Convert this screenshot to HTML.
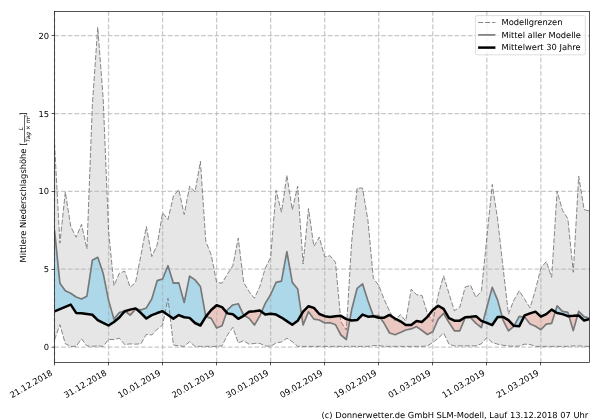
<!DOCTYPE html>
<html lang="de"><head><meta charset="utf-8"><title>Mittlere Niederschlagshöhe</title>
<style>html,body{margin:0;padding:0;background:#fff;overflow:hidden}svg{display:block;will-change:transform}text{font-family:'DejaVu Sans','Liberation Sans',sans-serif;font-size:8.33px;fill:#000;text-rendering:geometricPrecision}</style></head><body>
<svg width="600" height="420" viewBox="0 0 600 420">
<rect x="0" y="0" width="600" height="420" fill="#fff"/>
<defs>
<clipPath id="ax"><rect x="54.50" y="11.50" width="535.00" height="351.00"/></clipPath>
<clipPath id="above"><polygon points="54.50,11.50 54.50,311.34 59.90,309.16 65.31,306.82 70.71,304.64 76.12,312.89 81.52,313.21 86.92,313.98 92.33,314.76 97.73,320.05 103.14,322.86 108.54,325.50 113.94,321.92 119.35,317.56 124.75,311.18 130.16,309.62 135.56,308.38 140.96,313.05 146.37,318.50 151.77,315.07 157.18,313.05 162.58,311.18 167.98,315.07 173.39,318.65 178.79,315.07 184.20,317.25 189.60,317.88 195.01,323.01 200.41,325.50 205.81,316.63 211.22,309.94 216.62,305.27 222.03,307.13 227.43,313.36 232.83,314.29 238.24,318.81 243.64,315.85 249.05,311.65 254.45,311.18 259.85,310.56 265.26,314.61 270.66,313.83 276.07,314.61 281.47,317.56 286.87,321.14 292.28,324.72 297.68,320.83 303.09,311.65 308.49,306.20 313.89,307.91 319.30,313.98 324.70,316.16 330.11,316.94 335.51,316.32 340.91,315.85 346.32,319.12 351.72,320.52 357.13,320.05 362.53,314.61 367.93,316.63 373.34,316.32 378.74,317.72 384.15,317.72 389.55,314.92 394.95,318.50 400.36,321.30 405.76,325.04 411.17,325.04 416.57,320.99 421.97,321.92 427.38,316.79 432.78,309.94 438.19,305.73 443.59,308.85 448.99,318.03 454.40,320.68 459.80,320.68 465.21,317.25 470.61,316.79 476.02,316.16 481.42,320.83 486.82,322.86 492.23,325.04 497.63,316.94 503.04,316.94 508.44,320.05 513.84,325.81 519.25,326.28 524.65,315.38 530.06,313.36 535.46,311.65 540.86,316.63 546.27,314.14 551.67,309.62 557.08,313.05 562.48,314.14 567.88,316.16 573.29,315.85 578.69,315.38 584.10,320.52 589.50,319.12 589.50,11.50"/></clipPath>
<clipPath id="below"><polygon points="54.50,362.50 54.50,311.34 59.90,309.16 65.31,306.82 70.71,304.64 76.12,312.89 81.52,313.21 86.92,313.98 92.33,314.76 97.73,320.05 103.14,322.86 108.54,325.50 113.94,321.92 119.35,317.56 124.75,311.18 130.16,309.62 135.56,308.38 140.96,313.05 146.37,318.50 151.77,315.07 157.18,313.05 162.58,311.18 167.98,315.07 173.39,318.65 178.79,315.07 184.20,317.25 189.60,317.88 195.01,323.01 200.41,325.50 205.81,316.63 211.22,309.94 216.62,305.27 222.03,307.13 227.43,313.36 232.83,314.29 238.24,318.81 243.64,315.85 249.05,311.65 254.45,311.18 259.85,310.56 265.26,314.61 270.66,313.83 276.07,314.61 281.47,317.56 286.87,321.14 292.28,324.72 297.68,320.83 303.09,311.65 308.49,306.20 313.89,307.91 319.30,313.98 324.70,316.16 330.11,316.94 335.51,316.32 340.91,315.85 346.32,319.12 351.72,320.52 357.13,320.05 362.53,314.61 367.93,316.63 373.34,316.32 378.74,317.72 384.15,317.72 389.55,314.92 394.95,318.50 400.36,321.30 405.76,325.04 411.17,325.04 416.57,320.99 421.97,321.92 427.38,316.79 432.78,309.94 438.19,305.73 443.59,308.85 448.99,318.03 454.40,320.68 459.80,320.68 465.21,317.25 470.61,316.79 476.02,316.16 481.42,320.83 486.82,322.86 492.23,325.04 497.63,316.94 503.04,316.94 508.44,320.05 513.84,325.81 519.25,326.28 524.65,315.38 530.06,313.36 535.46,311.65 540.86,316.63 546.27,314.14 551.67,309.62 557.08,313.05 562.48,314.14 567.88,316.16 573.29,315.85 578.69,315.38 584.10,320.52 589.50,319.12 589.50,362.50"/></clipPath>
</defs>
<g clip-path="url(#ax)">
<polygon points="54.50,142.90 59.90,243.15 65.31,191.94 70.71,226.34 76.12,237.24 81.52,224.32 86.92,248.91 92.33,105.54 97.73,27.24 103.14,97.76 108.54,230.08 113.94,285.65 119.35,273.20 124.75,271.17 130.16,287.36 135.56,282.38 140.96,254.98 146.37,226.50 151.77,256.54 157.18,244.87 162.58,212.80 167.98,219.49 173.39,196.14 178.79,189.60 184.20,214.51 189.60,186.18 195.01,191.94 200.41,161.27 205.81,241.44 211.22,254.83 216.62,282.38 222.03,283.16 227.43,273.98 232.83,265.73 238.24,238.17 243.64,282.38 249.05,291.57 254.45,298.26 259.85,286.43 265.26,268.22 270.66,257.32 276.07,190.38 281.47,212.18 286.87,175.28 292.28,209.84 297.68,186.18 303.09,264.01 308.49,208.60 313.89,246.42 319.30,237.08 324.70,256.85 330.11,255.76 335.51,262.30 340.91,321.92 346.32,330.02 351.72,240.97 357.13,188.05 362.53,188.05 367.93,220.27 373.34,278.34 378.74,285.34 384.15,299.35 389.55,311.03 394.95,320.83 400.36,314.45 405.76,320.99 411.17,289.23 416.57,294.68 421.97,295.46 427.38,313.36 432.78,321.61 438.19,294.99 443.59,275.84 448.99,293.44 454.40,310.71 459.80,307.13 465.21,287.05 470.61,285.34 476.02,297.48 481.42,290.79 486.82,237.86 492.23,184.47 497.63,219.18 503.04,267.44 508.44,314.14 513.84,300.13 519.25,290.79 524.65,299.19 530.06,307.91 535.46,289.85 540.86,268.22 546.27,261.52 551.67,277.40 557.08,191.16 562.48,210.31 567.88,218.71 573.29,272.26 578.69,176.22 584.10,209.53 589.50,211.09 589.50,346.36 584.10,346.36 578.69,345.90 573.29,345.90 567.88,346.36 562.48,346.36 557.08,346.36 551.67,346.36 546.27,346.36 540.86,346.36 535.46,346.36 530.06,344.49 524.65,344.18 519.25,346.05 513.84,346.36 508.44,345.90 503.04,345.27 497.63,344.18 492.23,342.47 486.82,337.49 481.42,343.72 476.02,345.90 470.61,345.90 465.21,345.90 459.80,345.90 454.40,345.90 448.99,344.18 443.59,332.98 438.19,338.27 432.78,342.47 427.38,345.90 421.97,346.36 416.57,346.36 411.17,346.36 405.76,346.36 400.36,346.36 394.95,346.36 389.55,346.36 384.15,346.36 378.74,345.58 373.34,345.58 367.93,346.36 362.53,346.36 357.13,346.36 351.72,346.36 346.32,346.36 340.91,346.36 335.51,346.36 330.11,346.36 324.70,346.36 319.30,346.36 313.89,346.36 308.49,346.36 303.09,346.36 297.68,346.36 292.28,341.69 286.87,338.27 281.47,342.00 276.07,342.94 270.66,346.36 265.26,345.90 259.85,343.41 254.45,343.41 249.05,344.18 243.64,340.76 238.24,342.94 232.83,327.37 227.43,335.00 222.03,345.90 216.62,346.36 211.22,346.36 205.81,346.36 200.41,346.36 195.01,346.36 189.60,341.69 184.20,346.36 178.79,345.90 173.39,344.96 167.98,298.26 162.58,325.04 157.18,329.24 151.77,335.00 146.37,334.38 140.96,343.72 135.56,344.18 130.16,343.87 124.75,344.65 119.35,338.27 113.94,339.51 108.54,339.51 103.14,346.36 97.73,345.90 92.33,346.36 86.92,345.90 81.52,338.89 76.12,346.36 70.71,346.36 65.31,343.72 59.90,324.72 54.50,339.82" fill="#808080" fill-opacity="0.2"/>
<polygon clip-path="url(#above)" points="54.50,230.08 59.90,283.16 65.31,290.79 70.71,293.28 76.12,297.02 81.52,299.04 86.92,296.24 92.33,260.28 97.73,257.32 103.14,273.20 108.54,300.13 113.94,319.12 119.35,312.58 124.75,311.03 130.16,315.07 135.56,309.16 140.96,309.94 146.37,307.91 151.77,299.04 157.18,280.67 162.58,278.96 167.98,265.73 173.39,283.16 178.79,282.85 184.20,302.46 189.60,276.16 195.01,279.89 200.41,286.59 205.81,316.63 211.22,318.34 216.62,327.99 222.03,325.81 227.43,309.94 232.83,304.95 238.24,303.71 243.64,315.07 249.05,318.34 254.45,325.04 259.85,315.85 265.26,303.40 270.66,294.52 276.07,282.38 281.47,281.14 286.87,251.56 292.28,282.38 297.68,288.92 303.09,325.04 308.49,311.65 313.89,319.12 319.30,320.05 324.70,323.01 330.11,322.70 335.51,324.72 340.91,335.00 346.32,339.51 351.72,309.47 357.13,288.30 362.53,283.78 367.93,300.75 373.34,315.85 378.74,315.70 384.15,323.32 389.55,332.98 394.95,334.69 400.36,332.51 405.76,330.02 411.17,328.93 416.57,326.59 421.97,330.48 427.38,334.53 432.78,331.73 438.19,319.12 443.59,313.36 448.99,322.55 454.40,330.80 459.80,330.80 465.21,317.56 470.61,317.56 476.02,323.32 481.42,327.53 486.82,307.45 492.23,287.36 497.63,300.13 503.04,320.05 508.44,330.80 513.84,326.28 519.25,316.32 524.65,317.10 530.06,324.10 535.46,326.28 540.86,329.71 546.27,324.10 551.67,323.32 557.08,305.89 562.48,311.34 567.88,312.43 573.29,330.64 578.69,311.34 584.10,316.63 589.50,318.34 589.50,319.12 584.10,320.52 578.69,315.38 573.29,315.85 567.88,316.16 562.48,314.14 557.08,313.05 551.67,309.62 546.27,314.14 540.86,316.63 535.46,311.65 530.06,313.36 524.65,315.38 519.25,326.28 513.84,325.81 508.44,320.05 503.04,316.94 497.63,316.94 492.23,325.04 486.82,322.86 481.42,320.83 476.02,316.16 470.61,316.79 465.21,317.25 459.80,320.68 454.40,320.68 448.99,318.03 443.59,308.85 438.19,305.73 432.78,309.94 427.38,316.79 421.97,321.92 416.57,320.99 411.17,325.04 405.76,325.04 400.36,321.30 394.95,318.50 389.55,314.92 384.15,317.72 378.74,317.72 373.34,316.32 367.93,316.63 362.53,314.61 357.13,320.05 351.72,320.52 346.32,319.12 340.91,315.85 335.51,316.32 330.11,316.94 324.70,316.16 319.30,313.98 313.89,307.91 308.49,306.20 303.09,311.65 297.68,320.83 292.28,324.72 286.87,321.14 281.47,317.56 276.07,314.61 270.66,313.83 265.26,314.61 259.85,310.56 254.45,311.18 249.05,311.65 243.64,315.85 238.24,318.81 232.83,314.29 227.43,313.36 222.03,307.13 216.62,305.27 211.22,309.94 205.81,316.63 200.41,325.50 195.01,323.01 189.60,317.88 184.20,317.25 178.79,315.07 173.39,318.65 167.98,315.07 162.58,311.18 157.18,313.05 151.77,315.07 146.37,318.50 140.96,313.05 135.56,308.38 130.16,309.62 124.75,311.18 119.35,317.56 113.94,321.92 108.54,325.50 103.14,322.86 97.73,320.05 92.33,314.76 86.92,313.98 81.52,313.21 76.12,312.89 70.71,304.64 65.31,306.82 59.90,309.16 54.50,311.34" fill="#87ceeb" fill-opacity="0.62" fill-rule="evenodd"/>
<polygon clip-path="url(#below)" points="54.50,230.08 59.90,283.16 65.31,290.79 70.71,293.28 76.12,297.02 81.52,299.04 86.92,296.24 92.33,260.28 97.73,257.32 103.14,273.20 108.54,300.13 113.94,319.12 119.35,312.58 124.75,311.03 130.16,315.07 135.56,309.16 140.96,309.94 146.37,307.91 151.77,299.04 157.18,280.67 162.58,278.96 167.98,265.73 173.39,283.16 178.79,282.85 184.20,302.46 189.60,276.16 195.01,279.89 200.41,286.59 205.81,316.63 211.22,318.34 216.62,327.99 222.03,325.81 227.43,309.94 232.83,304.95 238.24,303.71 243.64,315.07 249.05,318.34 254.45,325.04 259.85,315.85 265.26,303.40 270.66,294.52 276.07,282.38 281.47,281.14 286.87,251.56 292.28,282.38 297.68,288.92 303.09,325.04 308.49,311.65 313.89,319.12 319.30,320.05 324.70,323.01 330.11,322.70 335.51,324.72 340.91,335.00 346.32,339.51 351.72,309.47 357.13,288.30 362.53,283.78 367.93,300.75 373.34,315.85 378.74,315.70 384.15,323.32 389.55,332.98 394.95,334.69 400.36,332.51 405.76,330.02 411.17,328.93 416.57,326.59 421.97,330.48 427.38,334.53 432.78,331.73 438.19,319.12 443.59,313.36 448.99,322.55 454.40,330.80 459.80,330.80 465.21,317.56 470.61,317.56 476.02,323.32 481.42,327.53 486.82,307.45 492.23,287.36 497.63,300.13 503.04,320.05 508.44,330.80 513.84,326.28 519.25,316.32 524.65,317.10 530.06,324.10 535.46,326.28 540.86,329.71 546.27,324.10 551.67,323.32 557.08,305.89 562.48,311.34 567.88,312.43 573.29,330.64 578.69,311.34 584.10,316.63 589.50,318.34 589.50,319.12 584.10,320.52 578.69,315.38 573.29,315.85 567.88,316.16 562.48,314.14 557.08,313.05 551.67,309.62 546.27,314.14 540.86,316.63 535.46,311.65 530.06,313.36 524.65,315.38 519.25,326.28 513.84,325.81 508.44,320.05 503.04,316.94 497.63,316.94 492.23,325.04 486.82,322.86 481.42,320.83 476.02,316.16 470.61,316.79 465.21,317.25 459.80,320.68 454.40,320.68 448.99,318.03 443.59,308.85 438.19,305.73 432.78,309.94 427.38,316.79 421.97,321.92 416.57,320.99 411.17,325.04 405.76,325.04 400.36,321.30 394.95,318.50 389.55,314.92 384.15,317.72 378.74,317.72 373.34,316.32 367.93,316.63 362.53,314.61 357.13,320.05 351.72,320.52 346.32,319.12 340.91,315.85 335.51,316.32 330.11,316.94 324.70,316.16 319.30,313.98 313.89,307.91 308.49,306.20 303.09,311.65 297.68,320.83 292.28,324.72 286.87,321.14 281.47,317.56 276.07,314.61 270.66,313.83 265.26,314.61 259.85,310.56 254.45,311.18 249.05,311.65 243.64,315.85 238.24,318.81 232.83,314.29 227.43,313.36 222.03,307.13 216.62,305.27 211.22,309.94 205.81,316.63 200.41,325.50 195.01,323.01 189.60,317.88 184.20,317.25 178.79,315.07 173.39,318.65 167.98,315.07 162.58,311.18 157.18,313.05 151.77,315.07 146.37,318.50 140.96,313.05 135.56,308.38 130.16,309.62 124.75,311.18 119.35,317.56 113.94,321.92 108.54,325.50 103.14,322.86 97.73,320.05 92.33,314.76 86.92,313.98 81.52,313.21 76.12,312.89 70.71,304.64 65.31,306.82 59.90,309.16 54.50,311.34" fill="#fa8072" fill-opacity="0.3" fill-rule="evenodd"/>
</g>
<g stroke="#b0b0b0" stroke-width="1.25" stroke-dasharray="4.65 2.017" fill="none" stroke-opacity="0.7"><line x1="54.50" y1="362.50" x2="54.50" y2="11.50"/><line x1="108.54" y1="362.50" x2="108.54" y2="11.50"/><line x1="162.58" y1="362.50" x2="162.58" y2="11.50"/><line x1="216.62" y1="362.50" x2="216.62" y2="11.50"/><line x1="270.66" y1="362.50" x2="270.66" y2="11.50"/><line x1="324.70" y1="362.50" x2="324.70" y2="11.50"/><line x1="378.74" y1="362.50" x2="378.74" y2="11.50"/><line x1="432.78" y1="362.50" x2="432.78" y2="11.50"/><line x1="486.82" y1="362.50" x2="486.82" y2="11.50"/><line x1="540.86" y1="362.50" x2="540.86" y2="11.50"/><line x1="54.50" y1="347.00" x2="589.50" y2="347.00"/><line x1="54.50" y1="269.18" x2="589.50" y2="269.18"/><line x1="54.50" y1="191.35" x2="589.50" y2="191.35"/><line x1="54.50" y1="113.53" x2="589.50" y2="113.53"/><line x1="54.50" y1="35.70" x2="589.50" y2="35.70"/></g>
<g clip-path="url(#ax)" fill="none" stroke-linejoin="round">
<polyline points="54.50,142.90 59.90,243.15 65.31,191.94 70.71,226.34 76.12,237.24 81.52,224.32 86.92,248.91 92.33,105.54 97.73,27.24 103.14,97.76 108.54,230.08 113.94,285.65 119.35,273.20 124.75,271.17 130.16,287.36 135.56,282.38 140.96,254.98 146.37,226.50 151.77,256.54 157.18,244.87 162.58,212.80 167.98,219.49 173.39,196.14 178.79,189.60 184.20,214.51 189.60,186.18 195.01,191.94 200.41,161.27 205.81,241.44 211.22,254.83 216.62,282.38 222.03,283.16 227.43,273.98 232.83,265.73 238.24,238.17 243.64,282.38 249.05,291.57 254.45,298.26 259.85,286.43 265.26,268.22 270.66,257.32 276.07,190.38 281.47,212.18 286.87,175.28 292.28,209.84 297.68,186.18 303.09,264.01 308.49,208.60 313.89,246.42 319.30,237.08 324.70,256.85 330.11,255.76 335.51,262.30 340.91,321.92 346.32,330.02 351.72,240.97 357.13,188.05 362.53,188.05 367.93,220.27 373.34,278.34 378.74,285.34 384.15,299.35 389.55,311.03 394.95,320.83 400.36,314.45 405.76,320.99 411.17,289.23 416.57,294.68 421.97,295.46 427.38,313.36 432.78,321.61 438.19,294.99 443.59,275.84 448.99,293.44 454.40,310.71 459.80,307.13 465.21,287.05 470.61,285.34 476.02,297.48 481.42,290.79 486.82,237.86 492.23,184.47 497.63,219.18 503.04,267.44 508.44,314.14 513.84,300.13 519.25,290.79 524.65,299.19 530.06,307.91 535.46,289.85 540.86,268.22 546.27,261.52 551.67,277.40 557.08,191.16 562.48,210.31 567.88,218.71 573.29,272.26 578.69,176.22 584.10,209.53 589.50,211.09" stroke="#747474" stroke-width="0.85" stroke-dasharray="5.1 1.9"/>
<polyline points="54.50,339.82 59.90,324.72 65.31,343.72 70.71,346.36 76.12,346.36 81.52,338.89 86.92,345.90 92.33,346.36 97.73,345.90 103.14,346.36 108.54,339.51 113.94,339.51 119.35,338.27 124.75,344.65 130.16,343.87 135.56,344.18 140.96,343.72 146.37,334.38 151.77,335.00 157.18,329.24 162.58,325.04 167.98,298.26 173.39,344.96 178.79,345.90 184.20,346.36 189.60,341.69 195.01,346.36 200.41,346.36 205.81,346.36 211.22,346.36 216.62,346.36 222.03,345.90 227.43,335.00 232.83,327.37 238.24,342.94 243.64,340.76 249.05,344.18 254.45,343.41 259.85,343.41 265.26,345.90 270.66,346.36 276.07,342.94 281.47,342.00 286.87,338.27 292.28,341.69 297.68,346.36 303.09,346.36 308.49,346.36 313.89,346.36 319.30,346.36 324.70,346.36 330.11,346.36 335.51,346.36 340.91,346.36 346.32,346.36 351.72,346.36 357.13,346.36 362.53,346.36 367.93,346.36 373.34,345.58 378.74,345.58 384.15,346.36 389.55,346.36 394.95,346.36 400.36,346.36 405.76,346.36 411.17,346.36 416.57,346.36 421.97,346.36 427.38,345.90 432.78,342.47 438.19,338.27 443.59,332.98 448.99,344.18 454.40,345.90 459.80,345.90 465.21,345.90 470.61,345.90 476.02,345.90 481.42,343.72 486.82,337.49 492.23,342.47 497.63,344.18 503.04,345.27 508.44,345.90 513.84,346.36 519.25,346.05 524.65,344.18 530.06,344.49 535.46,346.36 540.86,346.36 546.27,346.36 551.67,346.36 557.08,346.36 562.48,346.36 567.88,346.36 573.29,345.90 578.69,345.90 584.10,346.36 589.50,346.36" stroke="#747474" stroke-width="0.85" stroke-dasharray="5.1 1.9"/>
<polyline points="54.50,230.08 59.90,283.16 65.31,290.79 70.71,293.28 76.12,297.02 81.52,299.04 86.92,296.24 92.33,260.28 97.73,257.32 103.14,273.20 108.54,300.13 113.94,319.12 119.35,312.58 124.75,311.03 130.16,315.07 135.56,309.16 140.96,309.94 146.37,307.91 151.77,299.04 157.18,280.67 162.58,278.96 167.98,265.73 173.39,283.16 178.79,282.85 184.20,302.46 189.60,276.16 195.01,279.89 200.41,286.59 205.81,316.63 211.22,318.34 216.62,327.99 222.03,325.81 227.43,309.94 232.83,304.95 238.24,303.71 243.64,315.07 249.05,318.34 254.45,325.04 259.85,315.85 265.26,303.40 270.66,294.52 276.07,282.38 281.47,281.14 286.87,251.56 292.28,282.38 297.68,288.92 303.09,325.04 308.49,311.65 313.89,319.12 319.30,320.05 324.70,323.01 330.11,322.70 335.51,324.72 340.91,335.00 346.32,339.51 351.72,309.47 357.13,288.30 362.53,283.78 367.93,300.75 373.34,315.85 378.74,315.70 384.15,323.32 389.55,332.98 394.95,334.69 400.36,332.51 405.76,330.02 411.17,328.93 416.57,326.59 421.97,330.48 427.38,334.53 432.78,331.73 438.19,319.12 443.59,313.36 448.99,322.55 454.40,330.80 459.80,330.80 465.21,317.56 470.61,317.56 476.02,323.32 481.42,327.53 486.82,307.45 492.23,287.36 497.63,300.13 503.04,320.05 508.44,330.80 513.84,326.28 519.25,316.32 524.65,317.10 530.06,324.10 535.46,326.28 540.86,329.71 546.27,324.10 551.67,323.32 557.08,305.89 562.48,311.34 567.88,312.43 573.29,330.64 578.69,311.34 584.10,316.63 589.50,318.34" stroke="#787878" stroke-width="1.67"/>
<polyline points="54.50,311.34 59.90,309.16 65.31,306.82 70.71,304.64 76.12,312.89 81.52,313.21 86.92,313.98 92.33,314.76 97.73,320.05 103.14,322.86 108.54,325.50 113.94,321.92 119.35,317.56 124.75,311.18 130.16,309.62 135.56,308.38 140.96,313.05 146.37,318.50 151.77,315.07 157.18,313.05 162.58,311.18 167.98,315.07 173.39,318.65 178.79,315.07 184.20,317.25 189.60,317.88 195.01,323.01 200.41,325.50 205.81,316.63 211.22,309.94 216.62,305.27 222.03,307.13 227.43,313.36 232.83,314.29 238.24,318.81 243.64,315.85 249.05,311.65 254.45,311.18 259.85,310.56 265.26,314.61 270.66,313.83 276.07,314.61 281.47,317.56 286.87,321.14 292.28,324.72 297.68,320.83 303.09,311.65 308.49,306.20 313.89,307.91 319.30,313.98 324.70,316.16 330.11,316.94 335.51,316.32 340.91,315.85 346.32,319.12 351.72,320.52 357.13,320.05 362.53,314.61 367.93,316.63 373.34,316.32 378.74,317.72 384.15,317.72 389.55,314.92 394.95,318.50 400.36,321.30 405.76,325.04 411.17,325.04 416.57,320.99 421.97,321.92 427.38,316.79 432.78,309.94 438.19,305.73 443.59,308.85 448.99,318.03 454.40,320.68 459.80,320.68 465.21,317.25 470.61,316.79 476.02,316.16 481.42,320.83 486.82,322.86 492.23,325.04 497.63,316.94 503.04,316.94 508.44,320.05 513.84,325.81 519.25,326.28 524.65,315.38 530.06,313.36 535.46,311.65 540.86,316.63 546.27,314.14 551.67,309.62 557.08,313.05 562.48,314.14 567.88,316.16 573.29,315.85 578.69,315.38 584.10,320.52 589.50,319.12" stroke="#000" stroke-width="2.5" stroke-linejoin="round"/>
</g>
<rect x="54.50" y="11.50" width="535.00" height="351.00" fill="none" stroke="#000" stroke-width="0.67"/>
<g stroke="#000" stroke-width="0.67"><line x1="54.50" y1="362.50" x2="54.50" y2="365.40"/><line x1="108.50" y1="362.50" x2="108.50" y2="365.40"/><line x1="162.50" y1="362.50" x2="162.50" y2="365.40"/><line x1="216.50" y1="362.50" x2="216.50" y2="365.40"/><line x1="270.50" y1="362.50" x2="270.50" y2="365.40"/><line x1="324.50" y1="362.50" x2="324.50" y2="365.40"/><line x1="378.50" y1="362.50" x2="378.50" y2="365.40"/><line x1="432.50" y1="362.50" x2="432.50" y2="365.40"/><line x1="486.50" y1="362.50" x2="486.50" y2="365.40"/><line x1="540.50" y1="362.50" x2="540.50" y2="365.40"/><line x1="51.60" y1="347.20" x2="54.50" y2="347.20"/><line x1="51.60" y1="269.50" x2="54.50" y2="269.50"/><line x1="51.60" y1="191.50" x2="54.50" y2="191.50"/><line x1="51.60" y1="113.50" x2="54.50" y2="113.50"/><line x1="51.60" y1="35.50" x2="54.50" y2="35.50"/></g>
<text x="49.10" y="350.00" text-anchor="end">0</text>
<text x="49.10" y="272.18" text-anchor="end">5</text>
<text x="49.10" y="194.35" text-anchor="end">10</text>
<text x="49.10" y="116.53" text-anchor="end">15</text>
<text x="49.10" y="38.70" text-anchor="end">20</text>
<text transform="translate(53.20,374.50) rotate(-30)" text-anchor="end">21.12.2018</text>
<text transform="translate(107.24,374.50) rotate(-30)" text-anchor="end">31.12.2018</text>
<text transform="translate(161.28,374.50) rotate(-30)" text-anchor="end">10.01.2019</text>
<text transform="translate(215.32,374.50) rotate(-30)" text-anchor="end">20.01.2019</text>
<text transform="translate(269.36,374.50) rotate(-30)" text-anchor="end">30.01.2019</text>
<text transform="translate(323.40,374.50) rotate(-30)" text-anchor="end">09.02.2019</text>
<text transform="translate(377.44,374.50) rotate(-30)" text-anchor="end">19.02.2019</text>
<text transform="translate(431.48,374.50) rotate(-30)" text-anchor="end">01.03.2019</text>
<text transform="translate(485.52,374.50) rotate(-30)" text-anchor="end">11.03.2019</text>
<text transform="translate(539.56,374.50) rotate(-30)" text-anchor="end">21.03.2019</text>
<g transform="translate(26.4,187) rotate(-90)"><text x="-75.5" y="0">Mittlere Niederschlagshöhe [</text><text x="58.4" y="-3.2" text-anchor="middle" style="font-size:5.83px;font-style:italic">L</text><line x1="44.6" y1="-1.9" x2="72.2" y2="-1.9" stroke="#000" stroke-width="0.6"/><text x="58.4" y="3.9" text-anchor="middle" style="font-size:5.83px;font-style:italic">Tag × m<tspan dy="-2.1" style="font-size:4.08px">2</tspan></text><text x="71.6" y="0">]</text></g>
<rect x="475.40" y="15.60" width="109.90" height="39.20" rx="1.7" ry="1.7" fill="#fff" fill-opacity="0.8" stroke="#ccc" stroke-opacity="0.8" stroke-width="0.85"/>
<line x1="478.1" y1="22.50" x2="495.4" y2="22.50" stroke="#747474" stroke-width="0.85" stroke-dasharray="5.1 1.9"/>
<line x1="478.1" y1="34.90" x2="495.4" y2="34.90" stroke="#787878" stroke-width="1.67"/>
<line x1="478.1" y1="47.60" x2="495.4" y2="47.60" stroke="#000" stroke-width="2.5"/>
<text x="501.5" y="25.10">Modellgrenzen</text>
<text x="501.5" y="37.70">Mittel aller Modelle</text>
<text x="501.5" y="50.30">Mittelwert 30 Jahre</text>
<text x="588.3" y="417.6" text-anchor="end">(c) Donnerwetter.de GmbH SLM-Modell, Lauf 13.12.2018 07 Uhr</text>
</svg></body></html>
